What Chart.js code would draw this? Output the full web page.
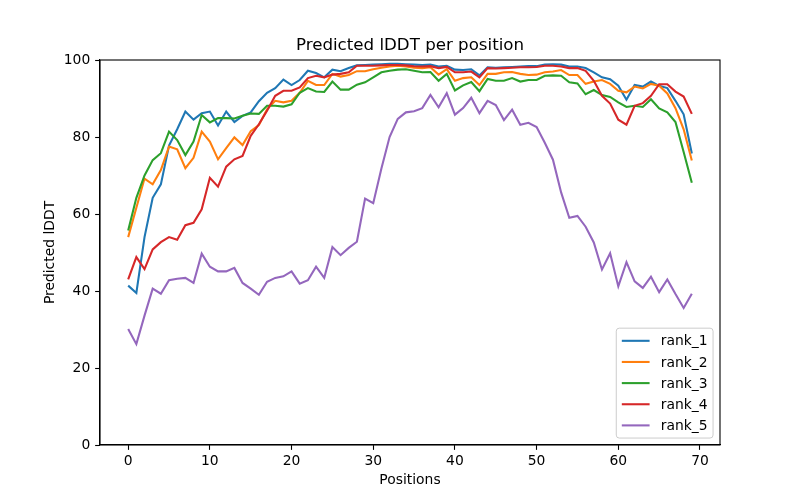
<!DOCTYPE html>
<html><head><meta charset="utf-8">
<script src="https://cdn.jsdelivr.net/npm/chart.js@4"></script>
<style>html,body{margin:0;padding:0;background:#fff}#wrap{width:800px;height:500px}</style>
</head><body><div id="wrap"><canvas id="c" width="800" height="500"></canvas></div>
<script>
const positions = [0,1,2,3,4,5,6,7,8,9,10,11,12,13,14,15,16,17,18,19,20,21,22,23,24,25,26,27,28,29,30,31,32,33,34,35,36,37,38,39,40,41,42,43,44,45,46,47,48,49,50,51,52,53,54,55,56,57,58,59,60,61,62,63,64,65,66,67,68,69];
const xTicks = [0,10,20,30,40,50,60,70];
const yTicks = [0,20,40,60,80,100];
const seriesNames = ['rank_1','rank_2','rank_3','rank_4','rank_5'];
const colors = ['#1f77b4','#ff7f0e','#2ca02c','#d62728','#9467bd'];

const rank1 = [41.4,39.5,54.0,64.2,67.7,77.8,82.0,86.6,84.5,86.2,86.6,83.0,86.6,83.9,85.5,86.4,89.3,91.5,92.7,94.9,93.5,94.8,97.2,96.6,95.5,97.5,97.1,97.9,98.6,98.7,98.8,98.9,99.0,99.0,98.9,98.8,98.7,98.8,98.3,98.5,97.5,97.4,97.6,96.0,98.1,98.0,98.1,98.2,98.3,98.4,98.4,98.8,98.9,98.8,98.3,98.3,97.9,96.8,95.5,95.0,93.3,89.7,93.5,93.1,94.4,93.3,92.7,89.4,85.9,75.7];
const rank2 = [54.0,61.6,69.2,67.7,71.4,77.5,76.8,71.9,74.6,81.4,78.8,74.2,77.1,79.9,77.9,81.5,83.1,87.2,89.4,89.0,89.4,91.5,94.6,93.5,93.5,96.4,95.7,96.1,97.1,97.1,97.6,98.0,98.3,98.5,98.3,98.0,97.9,98.1,96.2,97.6,94.6,95.3,95.5,93.5,96.4,96.4,96.8,96.9,96.4,96.1,96.2,96.8,97.0,97.4,96.1,96.1,93.8,94.4,94.8,93.8,92.0,91.6,93.1,92.6,93.8,93.3,91.3,87.5,82.0,73.9];
const rank3 = [55.7,64.2,70.0,74.0,75.8,81.4,79.2,75.3,78.8,85.7,83.8,84.9,84.9,84.8,85.5,86.1,86.0,88.1,88.1,87.9,88.5,91.5,92.7,91.8,91.7,94.4,92.3,92.3,93.6,94.2,95.5,96.8,97.2,97.5,97.6,97.2,96.8,96.9,94.6,96.4,92.1,93.4,94.3,91.9,95.1,94.6,94.6,95.3,94.4,94.8,94.8,95.9,96.0,95.9,94.2,93.9,91.1,92.2,90.9,90.4,89.0,87.8,88.1,87.8,89.8,87.4,86.4,83.9,76.1,68.1];
const rank4 = [43.0,48.8,45.7,50.8,52.7,54.0,53.3,57.1,57.7,61.2,69.4,67.1,72.3,74.2,75.1,80.3,83.3,86.8,90.7,92.0,92.0,92.9,95.3,95.9,95.5,96.2,96.4,96.8,98.5,98.5,98.5,98.6,98.7,98.7,98.6,98.4,98.3,98.4,97.9,98.2,96.8,96.8,97.0,95.5,97.9,97.8,97.9,98.0,98.1,98.1,98.2,98.5,98.5,98.3,97.9,97.9,97.2,94.6,90.7,88.7,84.5,83.2,88.1,88.8,90.7,93.7,93.7,91.8,90.5,86.0];
const rank5 = [30.1,26.2,33.6,40.6,39.3,42.8,43.2,43.4,42.1,49.7,46.3,45.1,45.1,46.0,42.1,40.6,39.0,42.4,43.4,43.8,45.1,41.9,42.8,46.3,43.4,51.4,49.3,51.2,52.8,64.0,62.8,71.8,80.0,84.7,86.4,86.7,87.5,90.9,87.7,91.4,85.8,87.5,90.2,86.2,89.4,88.3,84.4,87.1,83.2,83.7,82.6,78.5,74.1,65.6,59.0,59.5,56.7,52.6,45.6,49.8,41.2,47.5,42.5,40.8,43.7,39.7,43.0,39.2,35.6,39.3];
const seriesValues = [rank1, rank2, rank3, rank4, rank5];

const FONT = "'DejaVu Sans', sans-serif";
const FS = 13.89;
Chart.defaults.font.family = FONT;
Chart.defaults.color = '#000';

const framePlugin = {
  id: 'frame',
  afterDatasetsDraw(chart) {
    const {ctx, chartArea: a} = chart;
    ctx.save();
    ctx.strokeStyle = '#000';
    ctx.lineWidth = 1.1;
    ctx.strokeRect(a.left, a.top, a.right - a.left, a.bottom - a.top);
    ctx.restore();
  }
};

const legendPlugin = {
  id: 'mplLegend',
  afterDraw(chart) {
    const {ctx, chartArea: a} = chart;
    const ds = chart.data.datasets;
    const pad = 0.4 * FS, handle = 2.0 * FS, tpad = 0.8 * FS, rowH = 14.2, sp = 0.5 * FS;
    ctx.save();
    ctx.font = FS + 'px ' + FONT;
    let tw = 0;
    ds.forEach(d => { tw = Math.max(tw, ctx.measureText(d.label).width); });
    const w = pad + handle + tpad + tw + pad;
    const h = pad * 2 + ds.length * rowH + (ds.length - 1) * sp;
    const right = a.right - 0.5 * FS, bottom = a.bottom - 0.5 * FS;
    const left = right - w, top = bottom - h;
    ctx.beginPath();
    if (ctx.roundRect) ctx.roundRect(left, top, w, h, 3); else ctx.rect(left, top, w, h);
    ctx.fillStyle = 'rgba(255,255,255,0.8)';
    ctx.fill();
    ctx.strokeStyle = '#cccccc';
    ctx.lineWidth = 1;
    ctx.stroke();
    ds.forEach((d, i) => {
      const cy = top + pad + rowH / 2 + i * (rowH + sp);
      ctx.beginPath();
      ctx.moveTo(left + pad, cy);
      ctx.lineTo(left + pad + handle, cy);
      ctx.strokeStyle = d.borderColor;
      ctx.lineWidth = 2.08;
      ctx.stroke();
      ctx.fillStyle = '#000';
      ctx.textBaseline = 'middle';
      ctx.textAlign = 'left';
      ctx.fillText(d.label, left + pad + handle + tpad, cy + 1);
    });
    ctx.restore();
  }
};

const ctx = document.getElementById('c').getContext('2d');
new Chart(ctx, {
  type: 'line',
  data: {
    datasets: seriesNames.map((name, i) => ({
      label: name,
      data: positions.map((x, j) => ({x: x, y: seriesValues[i][j]})),
      borderColor: colors[i],
      backgroundColor: colors[i],
      borderWidth: 2.08,
      pointRadius: 0,
      pointHoverRadius: 0,
      tension: 0,
      fill: false,
      order: 5 - i
    }))
  },
  options: {
    responsive: false,
    animation: false,
    devicePixelRatio: 1,
    layout: {padding: {left: 0, right: 80, top: 0, bottom: 0}},
    plugins: {
      legend: {display: false},
      tooltip: {enabled: false},
      title: {
        display: true,
        text: 'Predicted lDDT per position',
        fullSize: false,
        color: '#000',
        font: {size: 16.67, weight: 'normal', lineHeight: 1.2, family: FONT},
        padding: {top: 35.5, bottom: 4.5}
      }
    },
    scales: {
      x: {
        type: 'linear',
        min: -3.45,
        max: 72.45,
        afterBuildTicks: ax => { ax.ticks = xTicks.map(v => ({value: v})); },
        afterFit: s => { s.height = 55; },
        grid: {drawOnChartArea: false, drawTicks: true, tickLength: 4.86, tickWidth: 1.1, tickColor: '#000'},
        border: {display: true, color: '#000', width: 1.1},
        ticks: {font: {size: FS, lineHeight: 1.2}, padding: 3.6, color: '#000', maxRotation: 0, autoSkip: false, callback: v => String(v)},
        title: {display: true, text: 'Positions', color: '#000', font: {size: FS, lineHeight: 1.2}, padding: {top: 0, bottom: 10.9}}
      },
      y: {
        type: 'linear',
        min: 0,
        max: 100,
        afterBuildTicks: ax => { ax.ticks = yTicks.map(v => ({value: v})); },
        afterFit: s => { s.width = 100; },
        grid: {drawOnChartArea: false, drawTicks: true, tickLength: 4.86, tickWidth: 1.1, tickColor: '#000'},
        border: {display: true, color: '#000', width: 1.1},
        ticks: {font: {size: FS, lineHeight: 1.2}, padding: 4.86, color: '#000', autoSkip: false, callback: v => String(v)},
        title: {display: true, text: 'Predicted lDDT', color: '#000', font: {size: FS, lineHeight: 1.2}, padding: {top: 42.2, bottom: 0}}
      }
    }
  },
  plugins: [framePlugin, legendPlugin]
});
</script>
</body></html>
